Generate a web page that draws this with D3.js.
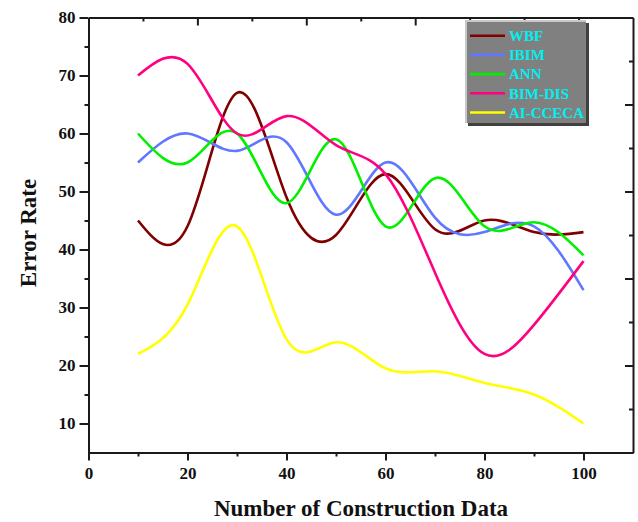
<!DOCTYPE html>
<html>
<head>
<meta charset="utf-8">
<script src="https://cdn.jsdelivr.net/npm/d3@7"></script>
<style>
  body { margin: 0; background: #fff; }
  text { font-family: "Liberation Serif", "Times New Roman", serif; font-weight: bold; }
</style>
</head>
<body>
<script>
// data
const xValues = [10, 20, 30, 40, 50, 60, 70, 80, 90, 100];
const seriesNames = ["WBF", "IBIM", "ANN", "BIM-DIS", "AI-CCECA"];
const wbf     = [45, 44, 67, 49, 42.5, 53, 43.5, 45, 43, 43];
const ibim    = [55, 60, 57, 58.5, 46, 55, 45.5, 43, 44, 33];
const ann     = [60, 55, 60, 48, 59, 44, 52.3, 44, 44.7, 39];
const bimDis  = [70, 72, 60, 63, 58, 53, 36, 22, 27, 38];
const aiCceca = [22, 30.5, 44, 24.5, 24, 19.5, 19, 17, 15, 10];
const colors  = ["#800000", "#6078ff", "#00f000", "#ff0080", "#ffff00"];
const xMajor = [0, 20, 40, 60, 80, 100];
const xMinor = [10, 30, 50, 70, 90];
const yMajor = [10, 20, 30, 40, 50, 60, 70, 80];
const yMinor = [15, 25, 35, 45, 55, 65, 75];

const width = 638, height = 522;
const svg = d3.select("body").append("svg")
    .attr("width", width)
    .attr("height", height);

const x = d3.scaleLinear().domain([0, 110]).range([88.5, 633]);
const y = d3.scaleLinear().domain([5, 80]).range([452.5, 17.5]);
// opposite axes in the reference are split in 10 equal parts
const xTop = d3.scaleLinear().domain([0, 10]).range(x.range());
const yRight = d3.scaleLinear().domain([0, 10]).range(y.range());

const axisColor = "#1a1a1a";
function styleAxis(g, labels) {
    g.select(".domain").attr("stroke", axisColor).attr("stroke-width", 2);
    g.selectAll(".tick line").attr("stroke", axisColor).attr("stroke-width", 2);
    if (labels) {
        g.selectAll(".tick text").attr("fill", "#111").style("font-size", "17px");
    } else {
        g.selectAll(".tick text").remove();
    }
}

// minor ticks first
svg.append("g").attr("transform", `translate(0,${y.range()[0]})`)
    .call(d3.axisBottom(x).tickValues(xMinor).tickSize(4).tickSizeOuter(0))
    .call(g => styleAxis(g, false));
svg.append("g").attr("transform", `translate(${x.range()[0]},0)`)
    .call(d3.axisLeft(y).tickValues(yMinor).tickSize(4).tickSizeOuter(0))
    .call(g => styleAxis(g, false));

// bottom axis
svg.append("g").attr("transform", `translate(0,${y.range()[0]})`)
    .call(d3.axisBottom(x).tickValues(xMajor).tickSize(8).tickSizeOuter(0).tickPadding(6))
    .call(g => styleAxis(g, true));

// left axis
svg.append("g").attr("transform", `translate(${x.range()[0]},0)`)
    .call(d3.axisLeft(y).tickValues(yMajor).tickSize(9).tickSizeOuter(0).tickPadding(4))
    .call(g => styleAxis(g, true));

// top axis, ticks inward
svg.append("g").attr("transform", `translate(0,${y.range()[1]})`)
    .call(d3.axisBottom(xTop).tickValues(d3.range(1, 10)).tickSize(0).tickSizeOuter(0))
    .call(g => {
        styleAxis(g, false);
        g.selectAll(".tick line").attr("y2", d => d % 2 === 0 ? 8 : 4);
    });

// right axis, ticks inward
svg.append("g").attr("transform", `translate(${x.range()[1]},0)`)
    .call(d3.axisLeft(yRight).tickValues(d3.range(1, 10)).tickSize(0).tickSizeOuter(0))
    .call(g => {
        styleAxis(g, false);
        g.selectAll(".tick line").attr("x2", d => d % 2 === 0 ? -8 : -4);
    });

// lines
const seriesData = [wbf, ibim, ann, bimDis, aiCceca];
const line = d3.line()
    .x((d, i) => x(xValues[i]))
    .y(d => y(d))
    .curve(d3.curveNatural);

svg.append("g")
    .selectAll("path")
    .data(seriesData)
    .join("path")
    .attr("d", d => line(d))
    .attr("fill", "none")
    .attr("stroke", (d, i) => colors[i])
    .attr("stroke-width", 2.6);

// axis titles
svg.append("text")
    .attr("x", 361)
    .attr("y", 516)
    .attr("text-anchor", "middle")
    .style("font-size", "23px")
    .attr("fill", "#111")
    .text("Number of Construction Data");

svg.append("text")
    .attr("transform", `translate(36,233) rotate(-90)`)
    .attr("text-anchor", "middle")
    .style("font-size", "23px")
    .attr("fill", "#111")
    .text("Error Rate");

// legend
const legend = svg.append("g").attr("transform", "translate(466,21)");
const lw = 121, lh = 103;
legend.append("rect")
    .attr("x", 2).attr("y", 2).attr("width", lw).attr("height", lh)
    .attr("fill", "#404040");
legend.append("rect")
    .attr("x", -1).attr("y", -1).attr("width", lw).attr("height", lh)
    .attr("fill", "#c8c8c8");
legend.append("rect")
    .attr("x", 1).attr("y", 1).attr("width", lw - 2).attr("height", lh - 2)
    .attr("fill", "#808080");

const rows = legend.selectAll("g.row")
    .data(seriesNames)
    .join("g")
    .attr("class", "row")
    .attr("transform", (d, i) => `translate(0,${14.7 + i * 19.2})`);
rows.append("line")
    .attr("x1", 4).attr("x2", 39)
    .attr("stroke", (d, i) => colors[i])
    .attr("stroke-width", 2.6);
rows.append("text")
    .attr("x", 43)
    .attr("dy", "0.35em")
    .style("font-size", "15px")
    .attr("fill", "#00f0f0")
    .text(d => d);
</script>
</body>
</html>
